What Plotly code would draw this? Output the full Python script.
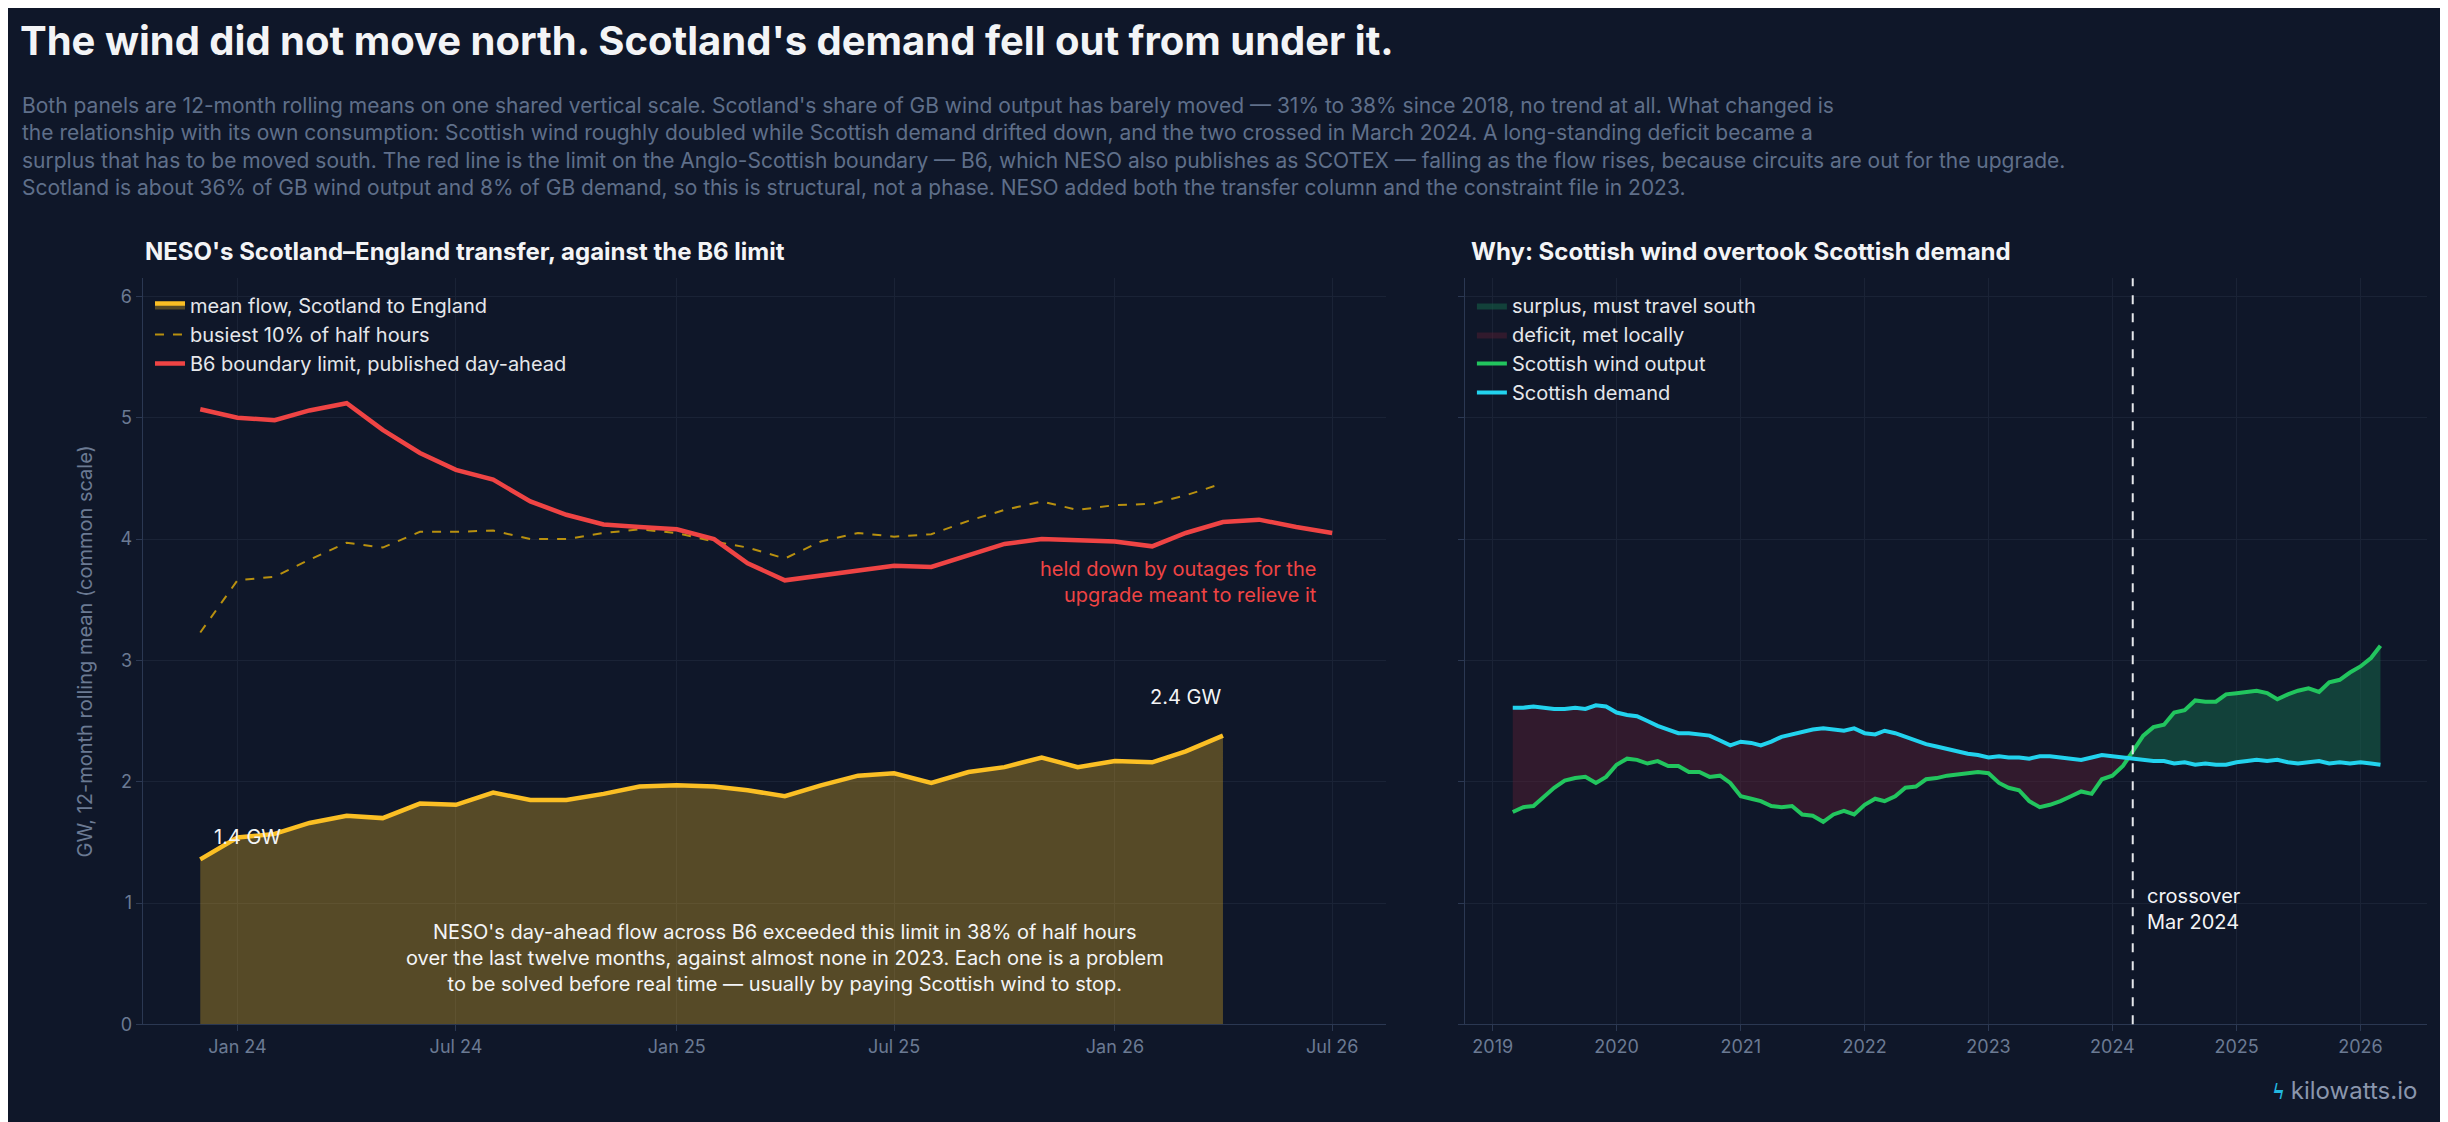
import numpy as np
import pandas as pd
import plotly.graph_objects as go

# ---- left panel: monthly, Dec 2023 onwards ----
b6_months = pd.date_range("2023-12-01", periods=32, freq="MS")
b6_limit = [5.07, 5.00, 4.98, 5.06, 5.12, 4.90, 4.71, 4.57, 4.49, 4.31, 4.20, 4.12,
            4.10, 4.08, 4.00, 3.80, 3.66, 3.70, 3.74, 3.78, 3.77, 3.87, 3.96, 4.00,
            3.99, 3.98, 3.94, 4.05, 4.14, 4.16, 4.10, 4.05]
flow_months = pd.date_range("2023-12-01", periods=29, freq="MS")
busiest10 = [3.23, 3.66, 3.69, 3.83, 3.97, 3.93, 4.06, 4.06, 4.07, 4.00, 4.00, 4.05,
             4.08, 4.05, 3.98, 3.93, 3.84, 3.98, 4.05, 4.02, 4.04, 4.15, 4.24, 4.31,
             4.24, 4.28, 4.29, 4.36, 4.46]
mean_flow = [1.36, 1.54, 1.57, 1.66, 1.72, 1.70, 1.82, 1.81, 1.91, 1.85, 1.85, 1.90,
             1.96, 1.97, 1.96, 1.93, 1.88, 1.97, 2.05, 2.07, 1.99, 2.08, 2.12, 2.20,
             2.12, 2.17, 2.16, 2.25, 2.38]

# ---- right panel: monthly, Mar 2019 to Mar 2026 ----
sc_months = pd.date_range("2019-03-01", periods=85, freq="MS")
sc_wind = [1.75, 1.79, 1.80, 1.88, 1.95, 2.01, 2.03, 2.04, 1.99, 2.04,
           2.14, 2.19, 2.18, 2.15, 2.17, 2.13, 2.13, 2.08, 2.08, 2.04, 2.05, 1.99,
           1.88, 1.86, 1.84, 1.80, 1.79, 1.80, 1.73, 1.72, 1.67, 1.73, 1.76, 1.73,
           1.81, 1.86, 1.84, 1.88, 1.95, 1.96, 2.02, 2.03, 2.05, 2.06, 2.07, 2.08,
           2.07, 1.99, 1.95, 1.93, 1.84, 1.79, 1.81, 1.84, 1.88, 1.92, 1.90, 2.02,
           2.05, 2.13, 2.25, 2.38, 2.45, 2.47, 2.57, 2.59, 2.67, 2.66, 2.66, 2.72,
           2.73, 2.74, 2.75, 2.73, 2.68, 2.72, 2.75, 2.77, 2.74, 2.82, 2.84, 2.90,
           2.95, 3.02, 3.12]
sc_demand = [2.61, 2.61, 2.62, 2.61, 2.60, 2.60, 2.61, 2.60, 2.63, 2.62,
             2.57, 2.55, 2.54, 2.50, 2.46, 2.43, 2.40, 2.40, 2.39, 2.38, 2.34, 2.30,
             2.33, 2.32, 2.30, 2.33, 2.37, 2.39, 2.41, 2.43, 2.44, 2.43, 2.42, 2.44,
             2.40, 2.39, 2.42, 2.40, 2.37, 2.34, 2.31, 2.29, 2.27, 2.25, 2.23, 2.22,
             2.20, 2.21, 2.20, 2.20, 2.19, 2.21, 2.21, 2.20, 2.19, 2.18, 2.20, 2.22,
             2.21, 2.20, 2.19, 2.18, 2.17, 2.17, 2.15, 2.16, 2.14, 2.15, 2.14, 2.14,
             2.16, 2.17, 2.18, 2.17, 2.18, 2.16, 2.15, 2.16, 2.17, 2.15, 2.16, 2.15,
             2.16, 2.15, 2.14]

BG = "#0f1729"
GRID = "#1a2336"
AXIS = "#2b3852"
TICK = "#6b7a93"
FONT = "Inter"

fig = go.Figure()

# 왼쪽 패널
fig.add_trace(go.Scatter(x=flow_months, y=mean_flow, mode="lines", name="mean flow, Scotland to England",
                         line=dict(color="#fbbf24", width=4.5), fill="tozeroy",
                         fillcolor="rgba(251,191,36,0.30)", xaxis="x", yaxis="y", legend="legend"))
fig.add_trace(go.Scatter(x=flow_months, y=busiest10, mode="lines", name="busiest 10% of half hours",
                         line=dict(color="#b8900f", width=2, dash="dash"), xaxis="x", yaxis="y", legend="legend"))
fig.add_trace(go.Scatter(x=b6_months, y=b6_limit, mode="lines", name="B6 boundary limit, published day-ahead",
                         line=dict(color="#ef4444", width=4.5), xaxis="x", yaxis="y", legend="legend"))

# 오른쪽 패널: 잉여 / 부족 영역
w = np.array(sc_wind)
d = np.array(sc_demand)
fig.add_trace(go.Scatter(x=sc_months, y=d, mode="lines", line=dict(width=0), showlegend=False,
                         hoverinfo="skip", xaxis="x2", yaxis="y2"))
fig.add_trace(go.Scatter(x=sc_months, y=np.maximum(w, d), mode="lines", line=dict(width=0),
                         fill="tonexty", fillcolor="rgba(22,101,73,0.55)", name="surplus, must travel south",
                         xaxis="x2", yaxis="y2", legend="legend2"))
fig.add_trace(go.Scatter(x=sc_months, y=d, mode="lines", line=dict(width=0), showlegend=False,
                         hoverinfo="skip", xaxis="x2", yaxis="y2"))
fig.add_trace(go.Scatter(x=sc_months, y=np.minimum(w, d), mode="lines", line=dict(width=0),
                         fill="tonexty", fillcolor="rgba(90,30,50,0.45)", name="deficit, met locally",
                         xaxis="x2", yaxis="y2", legend="legend2"))
fig.add_trace(go.Scatter(x=sc_months, y=sc_wind, mode="lines", name="Scottish wind output",
                         line=dict(color="#22c55e", width=4), xaxis="x2", yaxis="y2", legend="legend2"))
fig.add_trace(go.Scatter(x=sc_months, y=sc_demand, mode="lines", name="Scottish demand",
                         line=dict(color="#22d3ee", width=4), xaxis="x2", yaxis="y2", legend="legend2"))

axis_common = dict(showgrid=True, gridcolor=GRID, showline=True, linecolor=AXIS, zeroline=False,
                   ticks="outside", tickcolor=AXIS, ticklen=6, tickfont=dict(color=TICK, size=18))

fig.update_layout(
    width=2448, height=1122,
    paper_bgcolor=BG, plot_bgcolor=BG,
    font=dict(family=FONT, color="#e5e7eb"),
    margin=dict(l=0, r=0, t=0, b=0),
    xaxis=dict(domain=[0.055, 0.563], range=["2023-10-14", "2026-08-15"], tickformat="%b %y",
               tickvals=pd.to_datetime(["2024-01-01", "2024-07-01", "2025-01-01", "2025-07-01", "2026-01-01", "2026-07-01"]),
               **axis_common),
    yaxis=dict(domain=[0.086, 0.757], range=[0, 6.15], dtick=1,
               title=dict(text="GW, 12-month rolling mean (common scale)", font=dict(color=TICK, size=20), standoff=22),
               **axis_common),
    xaxis2=dict(domain=[0.595, 0.988], range=["2018-10-10", "2026-07-15"], dtick="M12", tickformat="%Y",
                anchor="y2", **axis_common),
    yaxis2=dict(domain=[0.086, 0.757], range=[0, 6.15], dtick=1, showticklabels=False, anchor="x2",
                **axis_common),
    legend=dict(x=0.058, y=0.75, xanchor="left", yanchor="top", bgcolor="rgba(0,0,0,0)",
                font=dict(size=20, color="#e5e7eb"), traceorder="normal"),
    legend2=dict(x=0.598, y=0.75, xanchor="left", yanchor="top", bgcolor="rgba(0,0,0,0)",
                 font=dict(size=20, color="#e5e7eb"), traceorder="normal"),
    shapes=[dict(type="line", xref="x2", yref="paper", x0="2024-03-01", x1="2024-03-01",
                 y0=0.086, y1=0.757, line=dict(color="#e5e7eb", width=2, dash="dash"))],
)

ann = [
    dict(text="<b>The wind did not move north. Scotland's demand fell out from under it.</b>",
         x=0.004, y=0.995, xanchor="left", yanchor="top", font=dict(size=40, color="#f3f4f6")),
    dict(text="Both panels are 12-month rolling means on one shared vertical scale. Scotland's share of GB wind output has barely moved — 31% to 38% since 2018, no trend at all. What changed is<br>"
              "the relationship with its own consumption: Scottish wind roughly doubled while Scottish demand drifted down, and the two crossed in March 2024. A long-standing deficit became a<br>"
              "surplus that has to be moved south. The red line is the limit on the Anglo-Scottish boundary — B6, which NESO also publishes as SCOTEX — falling as the flow rises, because circuits are out for the upgrade.<br>"
              "Scotland is about 36% of GB wind output and 8% of GB demand, so this is structural, not a phase. NESO added both the transfer column and the constraint file in 2023.",
         x=0.005, y=0.925, xanchor="left", yanchor="top", align="left", font=dict(size=21, color="#5f6f8a")),
    dict(text="<b>NESO's Scotland–England transfer, against the B6 limit</b>", x=0.055, y=0.766,
         xanchor="left", yanchor="bottom", font=dict(size=24, color="#f3f4f6")),
    dict(text="<b>Why: Scottish wind overtook Scottish demand</b>", x=0.597, y=0.766,
         xanchor="left", yanchor="bottom", font=dict(size=24, color="#f3f4f6")),
    dict(text="held down by outages for the<br>upgrade meant to relieve it", xref="x", yref="y",
         x="2026-06-20", y=3.65, xanchor="right", align="right", showarrow=False,
         font=dict(size=20, color="#ef4444")),
    dict(text="1.4 GW", xref="x", yref="y", x=flow_months[0], y=mean_flow[0] + 0.07, xanchor="left",
         yanchor="bottom", xshift=12, font=dict(size=20, color="#f3f4f6")),
    dict(text="2.4 GW", xref="x", yref="y", x=flow_months[-1], y=mean_flow[-1] + 0.2, xanchor="right",
         yanchor="bottom", font=dict(size=20, color="#f3f4f6")),
    dict(text="NESO's day-ahead flow across B6 exceeded this limit in 38% of half hours<br>"
              "over the last twelve months, against almost none in 2023. Each one is a problem<br>"
              "to be solved before real time — usually by paying Scottish wind to stop.",
         xref="x", yref="y", x="2025-04-01", y=0.55, align="center", font=dict(size=20, color="#f3f4f6")),
    dict(text="crossover<br>Mar 2024", xref="x2", yref="y", x="2024-03-01", y=0.95, xanchor="left",
         align="left", xshift=12, font=dict(size=20, color="#f3f4f6")),
    dict(text="<span style='color:#22b8e0'><b>ϟ</b></span> kilowatts.io", x=0.985, y=0.012, xanchor="right",
         yanchor="bottom", font=dict(size=24, color="#8a96ad")),
]
for a in ann:
    a.setdefault("xref", "paper")
    a.setdefault("yref", "paper")
    a.setdefault("showarrow", False)
    fig.add_annotation(**a)

fig.write_html("out.html")
